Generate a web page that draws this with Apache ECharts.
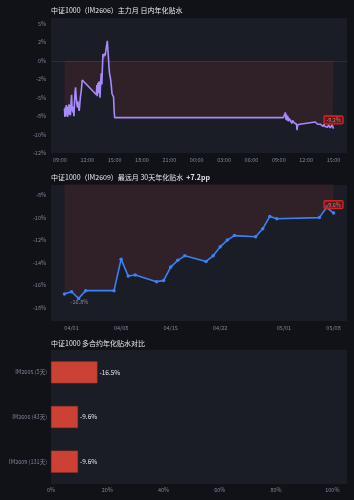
<!DOCTYPE html>
<html>
<head>
<meta charset="utf-8">
<script src="https://cdn.jsdelivr.net/npm/echarts@6/dist/echarts.min.js"></script>
<style>
  html, body { margin: 0; padding: 0; background: #111217; }
  #chart { width: 354px; height: 500px; }
</style>
</head>
<body>
<div id="chart"></div>
<script>
// ---- 数据 ----
// 主力月日内：小时（第二天 = 24 + 小时）
const intradayHours = [
  9.50, 9.55, 9.60, 9.65, 9.70, 9.75, 9.80, 9.85, 9.90, 9.95, 10.00, 10.05, 10.10, 10.15, 10.22, 10.28,
  10.33, 10.40, 10.47, 10.54, 10.60, 10.66, 10.72, 10.78, 10.85, 10.92, 10.98, 11.05, 11.12, 11.18,
  11.25, 11.31, 11.38, 11.45, 11.50,
  13.00, 13.05, 13.10, 13.16, 13.22, 13.28, 13.34, 13.40, 13.47, 13.53, 13.60, 13.66, 13.72, 13.80,
  13.88, 13.95, 14.02, 14.10, 14.20, 14.26, 14.31, 14.38, 14.45, 14.52, 14.58, 14.65, 14.72, 14.80,
  14.88, 14.95, 15.00,
  33.50, 33.60, 33.66, 33.72, 33.78, 33.85, 33.92, 33.98, 34.06, 34.14, 34.21, 34.28, 34.36, 34.43,
  34.50, 34.58, 34.68, 34.76, 34.85, 34.94, 35.00, 35.06, 35.15, 35.30, 35.50,
  37.00, 37.12, 37.25, 37.40, 37.55, 37.65, 37.75, 37.85, 37.95, 38.05, 38.15, 38.25, 38.35, 38.45,
  38.55, 38.65, 38.75, 38.85, 38.93, 39.00
]
const intradayValues = [
  -6.5, -7.6, -6.3, -7.5, -6.0, -7.2, -6.2, -7.6, -6.4, -6.8, -5.9, -7.3, -6.0, -7.4, -5.7, -4.6,
  -6.4, -7.0, -6.2, -7.5, -5.8, -4.2, -3.6, -4.8, -5.8, -6.3, -5.5, -6.4, -6.8, -5.9,
  -4.9, -4.4, -3.6, -2.6, -2.7,
  -4.6, -3.3, -4.8, -3.0, -4.4, -2.8, -3.6, -5.0, -2.9, -1.7, -3.2, -1.0, 0.9, 0.5,
  1.0, 0.7, 1.2, 1.0, 2.7, 1.5, 0.7, -0.9, -1.8, -2.2, -2.7, -3.6, -4.5, -4.6,
  -4.9, -6.8, -7.7,
  -7.7, -7.6, -7.5, -7.0, -8.0, -7.3, -8.1, -7.5, -8.2, -7.8, -7.7, -8.1, -8.0, -8.5,
  -8.1, -8.2, -8.4, -8.6, -8.5, -8.6, -9.4, -8.7, -8.6, -8.6, -8.5,
  -8.3, -8.4, -8.6, -8.5, -8.6, -8.8, -8.6, -8.9, -8.6, -8.9, -8.7, -8.9, -9.0, -8.7,
  -8.8, -9.1, -8.9, -8.7, -9.0, -9.2
]
const intradayTickHours = [9, 12, 15, 18, 21, 24, 27, 30, 33, 36, 39]
const intradayTickLabels = ['09:00', '12:00', '15:00', '18:00', '21:00', '00:00', '03:00', '06:00', '09:00', '12:00', '15:00']
const intradayYTicks = [-12.5, -10, -7.5, -5, -2.5, 0, 2.5, 5]
const intradayYLabels = ['-12%', '-10%', '-8%', '-5%', '-2%', '0%', '2%', '5%']

// 最远月 30 天
const farDates = [
  '2026-03-31', '2026-04-01', '2026-04-02', '2026-04-03', '2026-04-07', '2026-04-08', '2026-04-09',
  '2026-04-10', '2026-04-13', '2026-04-14', '2026-04-15', '2026-04-16', '2026-04-17', '2026-04-20',
  '2026-04-21', '2026-04-22', '2026-04-23', '2026-04-24', '2026-04-27', '2026-04-28', '2026-04-29',
  '2026-04-30', '2026-05-06', '2026-05-07', '2026-05-08'
]
const farValues = [
  -16.8, -16.6, -17.2, -16.5, -16.5, -13.7, -15.2, -15.1, -15.7, -15.6, -14.4, -13.8, -13.4, -13.9,
  -13.4, -12.6, -12.0, -11.6, -11.7, -11.0, -9.9, -10.1, -10.0, -9.1, -9.6
]
const farTickDates = ['2026-04-01', '2026-04-08', '2026-04-15', '2026-04-22', '2026-05-01', '2026-05-08']
const farTickLabels = ['04/01', '04/08', '04/15', '04/22', '05/01', '05/08']
const farYTicks = [-18, -16, -14, -12, -10, -8]
const farYLabels = ['-18%', '-16%', '-14%', '-12%', '-10%', '-8%']

// 多合约对比
const contracts = ['IM2605 (5天)', 'IM2606 (43天)', 'IM2609 (131天)']
const contractBasis = [-16.5, -9.6, -9.6]
const pctTicks = [0, 20, 40, 60, 80, 100]
const pctLabels = ['0%', '20%', '40%', '60%', '80%', '100%']

// ---- 样式 ----
const gridBg = '#1a1c26'
const labelColor = '#80859a'
const titleColor = '#e6e7ec'
const fontCJK = '"Noto Sans CJK SC", "Noto Sans", sans-serif'
const shade = 'rgba(239, 68, 68, 0.15)'

// 日期 -> 天数（按 UTC 计，避免时区影响）
const DAY = 86400000
const toDay = s => Date.UTC(+s.slice(0, 4), +s.slice(5, 7) - 1, +s.slice(8, 10)) / DAY
const farDays = farDates.map(toDay)
const farTickDays = farTickDates.map(toDay)

const pad = (lo, hi, r) => [lo - (hi - lo) * r, hi + (hi - lo) * r]
const hourRange = pad(intradayHours[0], intradayHours[intradayHours.length - 1], 0.05)
const dayRange = pad(farDays[0], farDays[farDays.length - 1], 0.05)

const badge = {
  fontSize: 5.5,
  fontFamily: fontCJK,
  color: '#f87171',
  backgroundColor: 'rgba(127, 29, 29, 0.45)',
  borderColor: '#dc2626',
  borderWidth: 0.8,
  borderRadius: 1,
  padding: [1, 2]
}

const lastHour = intradayHours[intradayHours.length - 1]
const lastIntraday = intradayValues[intradayValues.length - 1]

const farData = farDays.map((d, i) => {
  const item = { value: [d, farValues[i]] }
  if (i === farDays.length - 1) {
    item.label = {
      ...badge,
      show: true,
      position: 'top',
      distance: 3,
      formatter: p => p.value[1].toFixed(1) + '%'
    }
  }
  if (i === 0) {
    item.label = {
      show: true,
      position: 'bottom',
      offset: [15, -2],
      formatter: p => p.value[1].toFixed(1) + '%',
      fontSize: 5.5,
      fontFamily: fontCJK,
      color: 'rgba(160, 168, 190, 0.8)'
    }
  }
  return item
})

const farChange = farValues[farValues.length - 1] - farValues[0]

const baseLabel = {
  color: labelColor,
  fontSize: 5.5,
  fontFamily: fontCJK
}

const titleStyle = { color: titleColor, fontSize: 7, fontWeight: 'normal', fontFamily: fontCJK }

const chart = echarts.init(document.getElementById('chart'))

const option = {
  backgroundColor: '#111217',
  animation: false,
  title: [
    {
      text: '中证1000（IM2606）主力月 日内年化贴水',
      left: 51, top: 6.5, padding: 0,
      textStyle: titleStyle
    },
    {
      text: '中证1000（IM2609）最远月 30天年化贴水  {chg|' + (farChange >= 0 ? '+' : '') + farChange.toFixed(1) + 'pp}',
      left: 51, top: 173.5, padding: 0,
      textStyle: {
        ...titleStyle,
        rich: { chg: { color: titleColor, fontSize: 7, fontWeight: 'bold', fontFamily: fontCJK } }
      }
    },
    {
      text: '中证1000 多合约年化贴水对比',
      left: 51, top: 340, padding: 0,
      textStyle: titleStyle
    }
  ],
  grid: [
    { left: 51, top: 18, width: 296, height: 135, show: true, backgroundColor: gridBg, borderWidth: 0 },
    { left: 51, top: 185, width: 296, height: 136, show: true, backgroundColor: gridBg, borderWidth: 0 },
    { left: 51, top: 350, width: 296, height: 134, show: true, backgroundColor: gridBg, borderWidth: 0 }
  ],
  xAxis: [
    {
      gridIndex: 0,
      type: 'value',
      min: hourRange[0],
      max: hourRange[1],
      splitLine: { show: false },
      axisTick: { show: false },
      axisLine: { show: false },
      axisLabel: {
        ...baseLabel,
        margin: 4,
        customValues: intradayTickHours,
        formatter: v => intradayTickLabels[intradayTickHours.indexOf(v)]
      }
    },
    {
      gridIndex: 1,
      type: 'value',
      min: dayRange[0],
      max: dayRange[1],
      splitLine: { show: false },
      axisTick: { show: false },
      axisLine: { show: false },
      axisLabel: {
        ...baseLabel,
        margin: 4,
        customValues: farTickDays,
        formatter: v => farTickLabels[farTickDays.indexOf(v)]
      }
    },
    {
      gridIndex: 2,
      type: 'value',
      min: 0,
      max: 105.2,
      splitLine: { show: false },
      axisTick: { show: false },
      axisLine: { show: false },
      axisLabel: {
        ...baseLabel,
        margin: 3,
        customValues: pctTicks,
        formatter: v => pctLabels[pctTicks.indexOf(v)]
      }
    }
  ],
  yAxis: [
    {
      gridIndex: 0,
      type: 'value',
      min: -12.5,
      max: 5.8,
      splitLine: { show: false },
      axisTick: { show: false },
      axisLine: { show: false },
      axisLabel: {
        ...baseLabel,
        margin: 5,
        customValues: intradayYTicks,
        formatter: v => intradayYLabels[intradayYTicks.indexOf(v)]
      }
    },
    {
      gridIndex: 1,
      type: 'value',
      min: Math.min(...farValues) - 2,
      max: Math.max(...farValues) + 2,
      splitLine: { show: false },
      axisTick: { show: false },
      axisLine: { show: false },
      axisLabel: {
        ...baseLabel,
        margin: 5,
        customValues: farYTicks,
        formatter: v => farYLabels[farYTicks.indexOf(v)]
      }
    },
    {
      gridIndex: 2,
      type: 'category',
      inverse: true,
      data: contracts,
      axisTick: { show: false },
      axisLine: { show: false },
      axisLabel: { ...baseLabel, margin: 4 }
    }
  ],
  series: [
    {
      type: 'line',
      xAxisIndex: 0,
      yAxisIndex: 0,
      data: intradayHours.map((h, i) => [h, intradayValues[i]]),
      showSymbol: false,
      symbol: 'none',
      lineStyle: { color: '#a78bfa', width: 1.6 },
      itemStyle: { color: '#a78bfa' },
      areaStyle: { origin: 0, color: shade },
      markLine: {
        silent: true,
        symbol: 'none',
        label: { show: false },
        lineStyle: { color: 'rgba(255,255,255,0.08)', type: 'solid', width: 1 },
        data: [{ yAxis: 0 }]
      },
      markPoint: {
        silent: true,
        symbol: 'circle',
        symbolSize: 0,
        data: [{ coord: [lastHour, lastIntraday], value: lastIntraday }],
        label: {
          ...badge,
          show: true,
          position: 'top',
          distance: 5,
          formatter: p => p.value.toFixed(1) + '%'
        }
      }
    },
    {
      type: 'line',
      xAxisIndex: 1,
      yAxisIndex: 1,
      data: farData,
      symbol: 'circle',
      symbolSize: 3.5,
      lineStyle: { color: '#3b82f6', width: 1.6 },
      itemStyle: { color: '#3b82f6' },
      areaStyle: { origin: 0, color: shade }
    },
    {
      type: 'bar',
      xAxisIndex: 2,
      yAxisIndex: 2,
      data: contractBasis.map(v => Math.abs(v)),
      barWidth: 22,
      itemStyle: { color: '#cc4136', borderColor: '#a8352c', borderWidth: 0.6 },
      label: {
        show: true,
        position: 'right',
        distance: 2,
        color: '#e8e8ec',
        fontSize: 6.5,
        fontFamily: fontCJK,
        formatter: p => contractBasis[p.dataIndex].toFixed(1) + '%'
      }
    }
  ]
}

chart.setOption(option)
</script>
</body>
</html>
